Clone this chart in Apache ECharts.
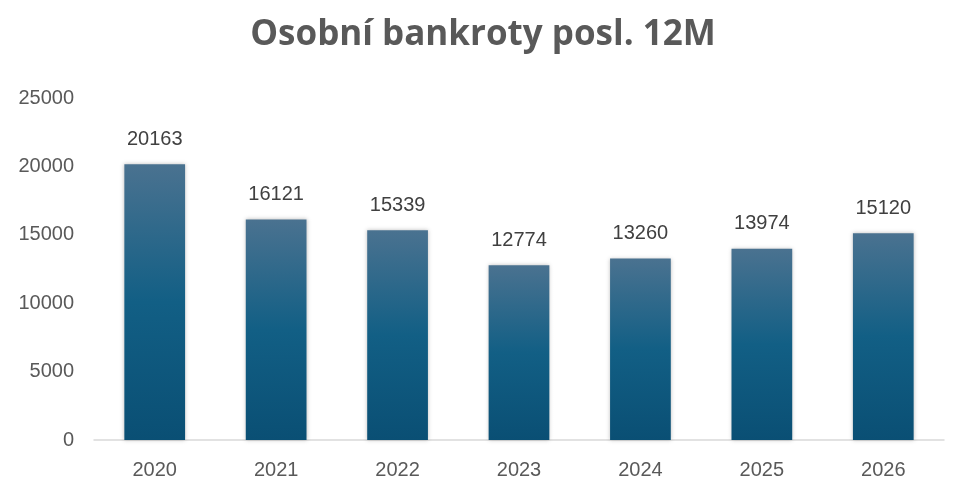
<!DOCTYPE html>
<html><head><meta charset="utf-8">
<script src="https://cdn.jsdelivr.net/npm/echarts@6/dist/echarts.min.js"></script>
<style>html,body{margin:0;padding:0;background:#fff}#c{width:966px;height:495px}</style>
</head><body><div id="c"></div>
<script>
const categories = ['2020','2021','2022','2023','2024','2025','2026'];
const values = [20163, 16121, 15339, 12774, 13260, 13974, 15120];
const yTicks = [0, 5000, 10000, 15000, 20000, 25000];

const chart = echarts.init(document.getElementById('c'));
chart.setOption({
  backgroundColor: '#ffffff',
  animation: false,
  title: {
    text: 'Osobní bankroty posl. 12M',
    left: 'center', top: 13,
    textStyle: { fontFamily: 'Open Sans', fontWeight: 'bold', fontSize: 35, color: '#595959' }
  },
  grid: { left: 94, right: 22, top: 98, bottom: 55 },
  xAxis: {
    type: 'category', data: categories,
    axisLine: { lineStyle: { color: '#d9d9d9', width: 1.5 } },
    axisTick: { show: false },
    axisLabel: { color: '#595959', fontSize: 20, fontFamily: 'Liberation Sans', margin: 20 }
  },
  yAxis: {
    type: 'value', min: yTicks[0], max: yTicks[yTicks.length - 1], interval: 5000,
    splitLine: { show: false },
    axisLine: { show: false }, axisTick: { show: false },
    axisLabel: { color: '#595959', fontSize: 20, fontFamily: 'Liberation Sans', margin: 20,
      formatter: v => String(v) }
  },
  series: [{
    type: 'bar', data: values, barWidth: '50%',
    itemStyle: {
      color: new echarts.graphic.LinearGradient(0, 0, 0, 1, [
        { offset: 0, color: '#4a7290' },
        { offset: 0.5, color: '#125f85' },
        { offset: 1, color: '#0a4f74' }
      ]),
      shadowColor: 'rgba(0,0,0,0.25)', shadowBlur: 4
    },
    label: { show: true, position: 'top', distance: 15, color: '#404040', fontSize: 20, fontFamily: 'Liberation Sans' }
  }]
});
</script></body></html>
